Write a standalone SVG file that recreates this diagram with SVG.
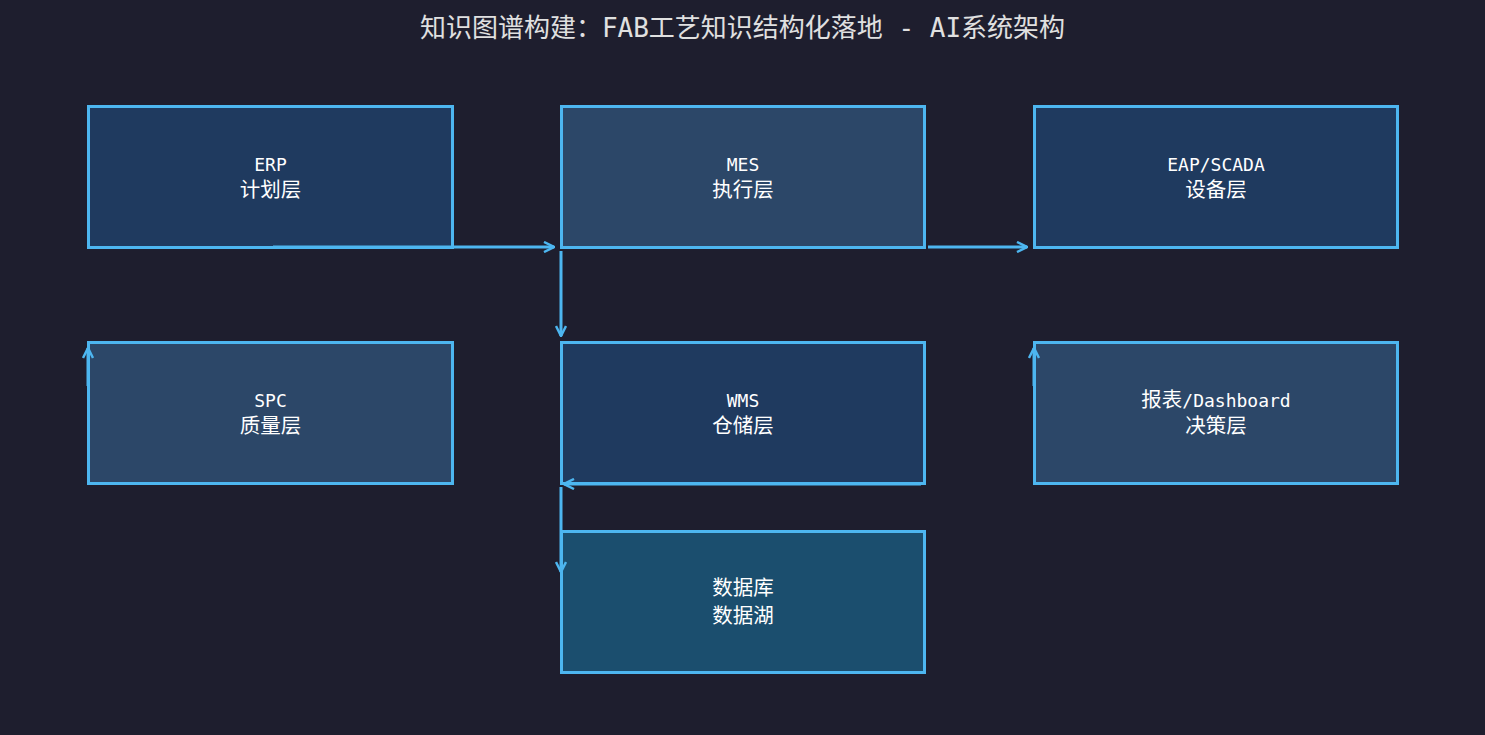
<svg xmlns="http://www.w3.org/2000/svg" width="1485" height="735" viewBox="0 0 1485 735">
<defs>
<style>
.bg{fill:#1e1e2e}
.title{font-family:"DejaVu Sans Mono","Noto Sans CJK SC",monospace;font-size:26px;fill:#e0e0e0;text-anchor:middle}
.box{stroke:#4db6f0;stroke-width:3}
.b1{fill:#1f3a5f}
.b2{fill:#2c4768}
.b3{fill:#1b4e6e}
.lbl{font-family:"DejaVu Sans Mono","Noto Sans CJK SC",monospace;font-size:18px;fill:#ffffff;text-anchor:middle}
.cj{font-family:"Noto Sans CJK SC",sans-serif;font-size:20.5px}
.edge{stroke:#4db6f0;stroke-width:3;fill:none;marker-end:url(#arr)}
</style>
<marker id="arr" viewBox="0 0 12 12" refX="11" refY="6" markerWidth="12" markerHeight="12" markerUnits="userSpaceOnUse" orient="auto">
<path d="M1,1 L11,6 L1,11" fill="none" stroke="#4db6f0" stroke-width="2.5"/>
</marker>
</defs>
<rect class="bg" x="0" y="0" width="1485" height="735"/>
<text class="title" x="742.5" y="37">知识图谱构建：FAB工艺知识结构化落地 - AI系统架构</text>
<g id="erp"><rect class="box b1" x="88.5" y="106.5" width="364" height="141"/><text class="lbl" x="270.5" y="171">ERP</text><text class="lbl cj" x="270.5" y="197">计划层</text></g>
<g id="mes"><rect class="box b2" x="561.5" y="106.5" width="363" height="141"/><text class="lbl" x="743" y="171">MES</text><text class="lbl cj" x="743" y="197">执行层</text></g>
<g id="eap"><rect class="box b1" x="1034.5" y="106.5" width="363" height="141"/><text class="lbl" x="1216" y="171">EAP/SCADA</text><text class="lbl cj" x="1216" y="197">设备层</text></g>
<g id="spc"><rect class="box b2" x="88.5" y="342.5" width="364" height="141"/><text class="lbl" x="270.5" y="407">SPC</text><text class="lbl cj" x="270.5" y="433">质量层</text></g>
<g id="wms"><rect class="box b1" x="561.5" y="342.5" width="363" height="141"/><text class="lbl" x="743" y="407">WMS</text><text class="lbl cj" x="743" y="433">仓储层</text></g>
<g id="report"><rect class="box b2" x="1034.5" y="342.5" width="363" height="141"/><text class="lbl" x="1216" y="407"><tspan class="cj">报表</tspan>/Dashboard</text><text class="lbl cj" x="1216" y="433">决策层</text></g>
<g id="db"><rect class="box b3" x="561.5" y="531.5" width="363" height="141"/><text class="lbl cj" x="743" y="595">数据库</text><text class="lbl cj" x="743" y="623">数据湖</text></g>
<g id="connectors">
<line class="edge" x1="273" y1="247" x2="554" y2="247"/>
<line class="edge" x1="928" y1="247" x2="1027" y2="247"/>
<line class="edge" x1="561" y1="251" x2="561" y2="336"/>
<line class="edge" x1="88" y1="386" x2="88" y2="348"/>
<line class="edge" x1="1034" y1="386" x2="1034" y2="348"/>
<line class="edge" x1="921" y1="484" x2="564" y2="484"/>
<line class="edge" x1="561" y1="487" x2="561" y2="572"/>
</g>
</svg>
